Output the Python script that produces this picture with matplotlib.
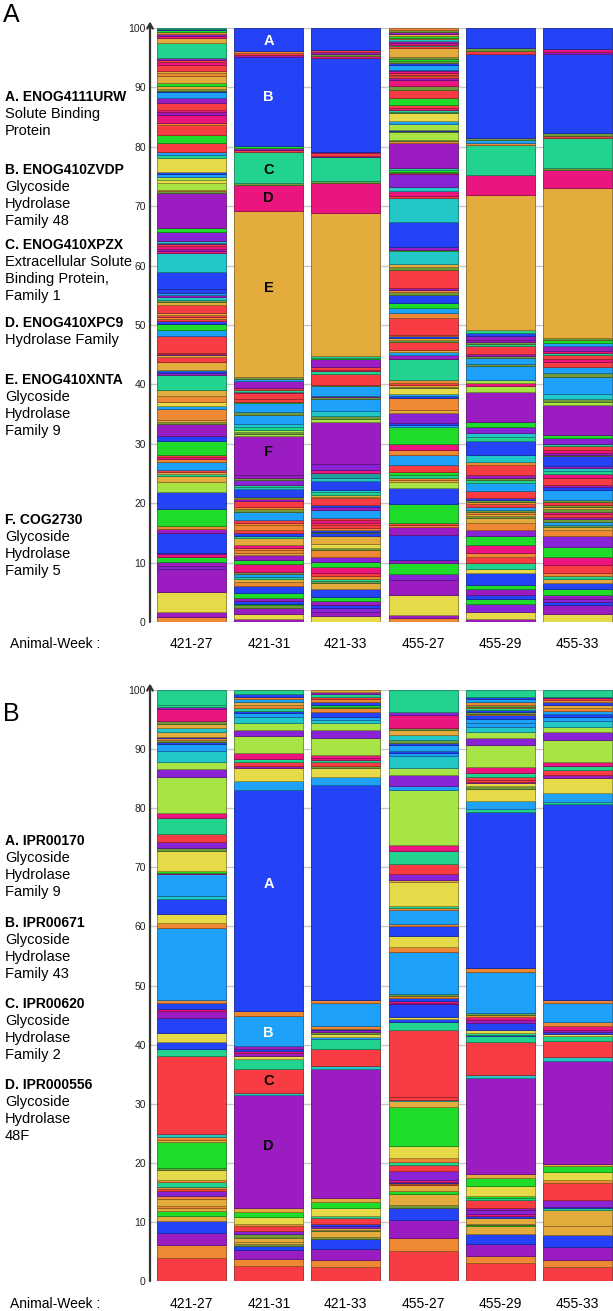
import matplotlib
matplotlib.use('Agg')
import matplotlib.pyplot as plt
import matplotlib.colors as mcolors
import numpy as np

plt.rcParams['font.family'] = ['Liberation Sans', 'DejaVu Sans']

samples = ['421-27', '421-31', '421-33', '455-27', '455-29', '455-33']

palette = {'R': '#F83C44', 'O': '#EE8833', 'G': '#E3AC3D', 'Y': '#E6DA48',
           'L': '#A8E443', 'N': '#1FDB2A', 'T': '#22D38F', 'C': '#22C7C8',
           'E': '#1E9E9E', 'S': '#1EA1F9', 'B': '#2442F6', 'P': '#9B1DC2',
           'V': '#8A23D6', 'M': '#EB1580', 'D': '#6E9A3A'}

# segments bottom -> top, "<colour><percent>"
# panel A : eggNOG families
a_421_27 = """O.8 P.9 Y3.4 P3.8 V.6 P.6 N.9 M.4 P.3 B3.2 P.8 O.4 N2.9 B2.9 L1.6 G1.0 T.4 G.3
R.4 S1.3 O.5 M.4 R.3 N2.3 B.9 P2.1 D.3 G.3 O1.8 S.5 Y.8 O1.0 G1.0 T2.5 P.3 B.3 S.3 G1.2 R.9
G.3 P.2 R.2 R2.8 S1.0 N1.0 B.5 R.4 O.4 R.3 G.3 R1.4 G.4 D.4 C.5 P.4 S.3 B.6 B3.0 C3.1 M.4 P.3
M.5 R.3 P.2 C.4 V1.5 N.7 P5.8 D.3 O.2 L1.2 Y.5 L.6 S.4 B.4 Y2.3 T.5 S.6 R1.4 N1.4 R1.6 O.4
M1.4 P.5 M.3 R1.1 P.9 S1.0 B.2 D.4 G.4 N.5 G1.3 O.4 G.4 R1.0 M.5 R.3 P.4 T2.4 G1.0 M.3 P.3
O.3 N.3 B.2 T.2"""
a_421_31 = """P.5 Y.9 P1.0 D.4 N.3 B.5 P.5 N.7 B1.3 O.7 G.4 T.4 S.5 D.4 M1.2 N.7 P.9 G.4 O.4 O.4
M.5 G1.1 T.4 B.4 R.6 O.8 O.4 R.5 S1.4 D.4 O.4 R1.0 P.3 O.2 L.2 B1.3 C.4 T.3 V.8 D.4 P.5 P6.5
L.4 D.3 L.4 T.5 C.5 S1.5 D.4 S1.5 N.3 R.4 R1.0 M.3 T.3 R.3 P1.1 S.4 D.3 G28.0 M4.4 D.3 T5.2
R.3 P.4 N.3 B15.1 P.3 R.3 O.3 B3.9"""
a_421_33 = """Y1.0 P.7 V.6 B.5 P.7 N.7 B1.4 G1.0 D.3 T.4 O.5 R.4 M1.1 N.8 V.9 O1.1 D.3 Y.7 G1.3
B.5 D.3 B.3 O.4 R.4 R.4 M.4 R.4 S1.4 P.4 B.4 R1.1 O.3 G.3 T.5 C.4 B1.4 C.6 E.8 M.5 V1.0 P7.0
L.5 D.5 C1.0 S1.9 D.3 P.2 S1.7 D.2 R1.9 T.4 M.3 R.4 P1.3 N.3 T.3 G24.0 M5.1 D.4 T3.9 P.3 R.4
M.3 B15.7 M.4 D.3 P.3 R.4 B3.7"""
a_455_27 = """O.6 P.6 Y3.4 P2.4 V1.0 N2.0 P.4 B4.2 P1.4 O.3 R.3 N3.2 B2.7 L1.0 G.4 O.4 T.5 N.4
R1.3 S1.6 O.8 M1.1 N2.8 S.3 B.4 V1.7 G.5 O2.0 B.3 S.3 Y1.1 D.2 G.3 R.4 O.4 T3.6 P.7 S.4 G.4
R1.3 D.4 G.3 B.3 O.3 R2.8 O.8 S.9 N.8 B1.4 D.4 O.4 P.3 R3.0 D.5 G.6 C2.1 N.3 P.4 B4.2 C4.0 R.5
M.7 C.8 V2.1 M.2 D.2 N.3 T.4 P4.1 O.3 D.3 L1.3 D.2 B.2 L.9 S.6 Y1.3 D.2 T.3 M.4 R.5 N1.1 R1.4
D.6 M1.1 P.3 R.3 O.2 R.3 M.3 P.3 S.8 B.3 D.3 N.4 D.4 G1.4 R.3 T.3 M.3 P.3 C.3 O.3 N.3 G.3 P.3
D.3 O.4"""
a_455_29 = """P.5 Y1.2 V1.3 N.9 B.6 P1.0 N.8 B2.0 Y.7 T.9 R1.1 O.7 M1.3 N1.5 V1.0 O1.1 G.9 D.3 G.4
O.4 D.3 S.5 R.4 O.4 D.3 B.3 R1.3 S1.3 T.5 D.4 P.4 R1.8 O.5 C1.1 B2.3 T.8 C.7 V1.0 N.7 P5.1
L1.0 M.5 L.6 S2.3 D.4 S.9 D.3 P.4 R1.3 T.4 D.3 P.3 P.8 B.4 T.5 G22.8 M3.3 T5.1 O.4 S.4 D.4
B14.1 R.5 D.5 B3.4"""
a_455_33 = """Y1.4 P1.5 B.5 V.5 P.6 N1.1 B1.0 G.7 T.4 O.5 R1.4 M1.4 N1.7 V1.7 O1.1 G.5 D.4 S.5 D.4
P.4 R.5 M.4 D.4 G.4 D.3 R.5 D.4 S1.7 B.4 P.4 R1.2 M.6 T.5 C.5 P.4 B1.6 D.2 P.3 M.6 R.6 T.4
V1.0 N.5 P5.1 L.5 D.4 C.8 S3.0 D.7 S1.0 R.8 M.4 R.8 T.3 M.3 P.9 S.5 N.4 D.4 G25.3 M3.0 D.3
T5.1 R.4 D.4 B13.3 P.4 M.5 B3.5"""

# panel B : InterPro domains
b_421_27 = """R3.9 O2.2 P2.1 B2.0 G.8 N.8 G.5 O.4 G1.2 O.4 V.9 R.4 O.3 T.8 O.4 Y1.7 D.3 N4.4 G.4
O.4 C.5 R13.2 T1.3 B1.1 Y1.6 B2.5 P1.2 M.4 B1.0 O.4 S12.2 O.9 Y1.5 B2.5 C.6 S3.7 M.2 N.3 Y3.3
D.6 V.9 R1.4 T2.7 M.9 L6.0 V1.4 L1.3 C1.8 S1.1 B.4 D.4 O.2 B.3 G.8 C.7 G.6 D.6 M2.0 P.3 T.4
T2.5"""
b_421_31 = """R2.6 O1.1 P1.5 B.8 D.3 G.3 G.7 D.6 V.5 R.9 O.4 Y1.2 N.8 G.7 P19.1 C.3 R4.1 T1.7 Y.5
P.4 M.4 B.4 P.4 S5.2 O.8 B37.4 S1.5 Y2.2 P.4 R.6 T.6 M.9 L3.0 V1.0 L1.1 C1.0 S.7 B.4 T.4 O.6
G.5 S.5 O.4 B.4 T.7"""
b_421_33 = """R2.4 O1.1 P1.9 B1.7 D.4 G.9 D.3 G.3 V.3 B.3 R1.0 T.4 Y1.3 N1.1 G.7 P21.8 C.4 R3.0
T1.7 S.3 Y.5 D.3 P.3 B.3 O.4 S3.9 O.5 B36.5 S1.2 Y1.6 D.4 R.7 T.3 M.3 M.5 L2.9 V1.4 L1.1 C.6
S.5 B.7 O.7 D.3 N.3 B.5 O.4 R.4 T.5 P.3 G.4"""
b_455_27 = """R5.0 O2.3 P3.0 B2.0 D.6 G1.8 N.5 G1.0 R.2 O.2 B.2 M.3 V1.5 R1.0 T.6 O.6 Y2.0 N6.7
G.9 C.3 R.4 R11.4 T1.4 B.4 Y.4 B2.1 P.3 M.3 B.5 O.3 D.3 S7.2 O.8 Y1.8 B1.7 O.4 S2.4 O.3 T.3
Y4.1 G.4 V1.0 R1.7 T2.1 M1.1 L9.3 S.6 V2.0 L1.1 C2.0 S.6 B.3 S1.0 B.4 D.4 C.9 G.8 D.4 M2.1
V.6 T3.7"""
b_455_29 = """R3.1 O1.2 P2.0 B1.6 G1.4 N.2 D.2 G1.0 B.3 M.3 V.7 P.3 R1.4 T.3 N.3 Y1.7 N1.4 G.7
P16.2 C.6 R5.5 T1.1 B.2 T.3 Y.5 B1.1 P.5 M.6 O.3 D.3 S6.9 O.7 B26.5 T.4 S1.5 Y2.0 D.4 Y.5
P.2 R.3 R.6 T.7 M1.0 L3.7 V1.1 L1.1 C.9 S.7 S.6 B.6 O.3 D.2 B.4 T.3 O.3 D.3 O.4 S.5 B.4 T1.2"""
b_455_33 = """R2.3 O1.2 P2.3 B2.0 G1.5 G2.7 T.3 B.3 V1.1 R2.8 O.6 Y1.3 N1.0 G.4 P17.4 C.7 R2.7
T.8 Y.4 B.3 P.3 M.8 O.6 S3.3 O.4 B33.2 T.4 S1.5 Y2.5 P.6 R.8 T.6 M.7 L3.8 V1.3 L.9 C.9 S.8
B.4 S.5 O.6 G.5 B.4 O.4 R.3 P.3 T1.1"""

bars_a = [a_421_27, a_421_31, a_421_33, a_455_27, a_455_29, a_455_33]
bars_b = [b_421_27, b_421_31, b_421_33, b_455_27, b_455_29, b_455_33]

# in-bar letters (sample 421-31): letter, level, colour
marks_a = [('A', 97.8, 'white'), ('B', 88.3, 'white'), ('C', 76.1, 'black'),
           ('D', 71.4, 'black'), ('E', 56.2, 'black'), ('F', 28.6, 'black')]
marks_b = [('A', 67.2, 'white'), ('B', 42.0, 'white'), ('C', 33.9, 'black'),
           ('D', 22.8, 'black')]

notes_a = [('A. ENOG4111URW', 'Solute Binding\nProtein'),
           ('B. ENOG410ZVDP', 'Glycoside\nHydrolase\nFamily 48'),
           ('C. ENOG410XPZX', 'Extracellular Solute\nBinding Protein,\nFamily 1'),
           ('D. ENOG410XPC9', 'Hydrolase Family'),
           ('E. ENOG410XNTA', 'Glycoside\nHydrolase\nFamily 9'),
           ('F. COG2730', 'Glycoside\nHydrolase\nFamily 5')]
notes_b = [('A. IPR00170', 'Glycoside\nHydrolase\nFamily 9'),
           ('B. IPR00671', 'Glycoside\nHydrolase\nFamily 43'),
           ('C. IPR00620', 'Glycoside\nHydrolase\nFamily 2'),
           ('D. IPR000556', 'Glycoside\nHydrolase\n48F')]

W, H = 613.0, 1311.0
fig = plt.figure(figsize=(W / 100, H / 100), dpi=100)

def px(x, y):
    return x / W, 1 - y / H

def panel(y_top, y_bot, bars, marks):
    ax = fig.add_axes([150 / W, 1 - y_bot / H, (W - 150) / W, (y_bot - y_top) / H])
    for i, col in enumerate(bars):
        segs = [(t[0], float(t[1:])) for t in col.split()]
        vals = np.array([v for _, v in segs])
        vals = vals / vals.sum() * 100
        bots = np.concatenate([[0], np.cumsum(vals)[:-1]])
        for (c, _), v, b in zip(segs, vals, bots):
            ec = tuple(np.array(mcolors.to_rgb(palette[c])) * 0.62)
            ax.bar(i, v, bottom=b, width=0.894, color=palette[c],
                   edgecolor=ec, linewidth=0.6, zorder=2)
    for lab, lev, col in marks:
        ax.text(1, lev, lab, ha='center', va='center', color=col,
                fontsize=10.5, fontweight='bold', zorder=3)
    ax.set_xlim(-0.5376, 5.46)
    ax.set_ylim(0, 100)
    ax.set_yticks(range(0, 101, 10))
    ax.set_xticks([])
    ax.tick_params(axis='y', length=0, pad=3, labelsize=7.5, labelcolor='#222222')
    ax.yaxis.grid(True, color='#c8c8c8', lw=1.0, zorder=0)
    ax.set_axisbelow(True)
    for s in ax.spines.values():
        s.set_visible(False)
    ax.annotate('', xy=(0, 1.011), xytext=(0, 0), xycoords='axes fraction',
                arrowprops=dict(arrowstyle='->,head_length=0.35,head_width=0.2',
                                lw=1.6, color='#333333', shrinkA=0, shrinkB=0))
    return ax

panel(28, 622, bars_a, marks_a)
panel(690, 1281, bars_b, marks_b)

centers = [191.5, 269, 345.5, 423, 500, 577.5]
for ylab in (644, 1304):
    fig.text(*px(10, ylab), 'Animal-Week :', fontsize=10, va='center', ha='left')
    for cx, s in zip(centers, samples):
        fig.text(*px(cx, ylab), s, fontsize=10, va='center', ha='center')

fig.text(*px(3, 15), 'A', fontsize=18, va='center', ha='left')
fig.text(*px(3, 714), 'B', fontsize=18, va='center', ha='left')

def notes(items, ys, step=17):
    for (head, body), y in zip(items, ys):
        fig.text(*px(5, y), head, fontsize=10, fontweight='bold', va='center')
        for k, line in enumerate(body.split('\n')):
            fig.text(*px(5, y + step * (k + 1)), line, fontsize=10.5, va='center')

notes(notes_a, [97, 170, 245, 323, 380, 520])
notes(notes_b, [841, 923, 1004, 1085])

fig.savefig('out.png', dpi=100)
